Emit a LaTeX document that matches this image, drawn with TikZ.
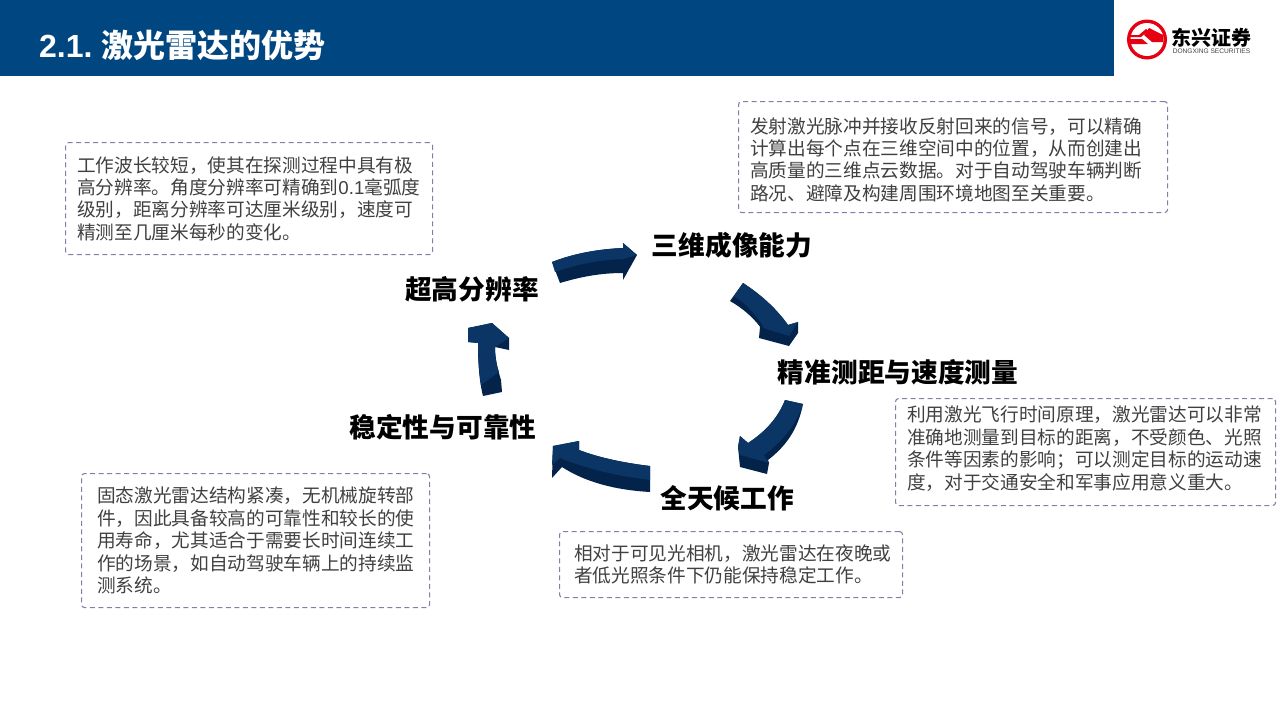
\documentclass[tikz,border=0pt]{standalone}
\usepackage{fontspec}
\setmainfont{Noto Sans CJK SC}
\newfontfamily\latinfont{Liberation Sans}
\definecolor{headblue}{HTML}{004680}
\definecolor{arrowtop}{HTML}{0A3565}
\definecolor{arrowlow}{HTML}{03234A}
\definecolor{boxline}{HTML}{7F7FA8}
\definecolor{bodygrey}{HTML}{404040}
\definecolor{logored}{HTML}{E60012}
\tikzset{
  infobox/.style={draw=boxline,line width=1.1pt,dash pattern=on 5pt off 3.5pt,rounded corners=3pt,anchor=north west,
    inner xsep=11.5pt,inner ysep=0pt,align=left,text=bodygrey,font=\fontsize{18.67}{22.4}\selectfont},
  steplabel/.style={font=\fontsize{26.67}{30}\selectfont\bfseries,text=black,inner sep=0pt},
  toparrow/.style={fill=arrowtop},
  lowarrow/.style={fill=arrowlow}
}
\begin{document}
\begin{tikzpicture}[x=1pt,y=-1pt]
      \useasboundingbox (0,0) rectangle (1280,720);
      \fill[headblue] (0,0) rectangle (1114,76);
      \node[anchor=west,inner sep=0pt,text=white,font=\fontsize{32}{36}\selectfont\bfseries] (title) at (39,45) {{\latinfont 2.1.}\hspace{9pt}激光雷达的优势};
      \fill[logored] (1147,39.5) circle (20);
      \fill[white] (1147,39.5) circle (16.5);
      \fill[logored] (1149,28) -- (1163,35) -- (1163,42) -- (1152,42) -- (1144,35) -- cycle;
      \fill[logored] (1129,35) -- (1139,35) -- (1146,29) -- (1148,31) -- (1141,37) -- (1129,37) -- cycle;
      \fill[logored] (1130,39) -- (1142,39) -- (1148,44) -- (1130,44) -- cycle;
      \node[inner sep=0pt,font=\fontsize{20}{20}\selectfont\bfseries,text=black] (logotext) at (1211.5,38) {东兴证券};
      \node[inner sep=0pt,font=\fontsize{6.6}{7}\selectfont\latinfont,text=bodygrey] (logosub) at (1211.5,51.5) {DONGXING SECURITIES};
      \node[steplabel] (0) at (472,289) {超高分辨率};
      \node[steplabel] (1) at (732,245) {三维成像能力};
      \node[steplabel] (2) at (898,372) {精准测距与速度测量};
      \node[steplabel] (3) at (727,498) {全天候工作};
      \node[steplabel] (4) at (443,427) {稳定性与可靠性};
      \node[infobox,minimum width=367pt,minimum height=112pt,text width=344pt] (box0) at (65,142)
        {工作波长较短，使其在探测过程中具有极\\高分辨率。角度分辨率可精确到{\latinfont 0.1}毫弧度\\级别，距离分辨率可达厘米级别，速度可\\精测至几厘米每秒的变化。};
      \node[infobox,minimum width=429pt,minimum height=111pt,text width=406pt] (box1) at (738,101)
        {\rule{0pt}{21pt}发射激光脉冲并接收反射回来的信号，可以精确\\计算出每个点在三维空间中的位置，从而创建出\\高质量的三维点云数据。对于自动驾驶车辆判断\\路况、避障及构建周围环境地图至关重要。};
      \node[infobox,minimum width=380pt,minimum height=107pt,text width=357pt] (box2) at (895,398)
        {利用激光飞行时间原理，激光雷达可以非常\\准确地测量到目标的距离，不受颜色、光照\\条件等因素的影响；可以测定目标的运动速\\度，对于交通安全和军事应用意义重大。\rule[-9pt]{0pt}{9pt}};
      \node[infobox,inner xsep=14.5pt,minimum width=343pt,minimum height=66pt,text width=314pt] (box3) at (559,531)
        {相对于可见光相机，激光雷达在夜晚或\\者低光照条件下仍能保持稳定工作。};
      \node[infobox,inner xsep=15.5pt,minimum width=348pt,minimum height=134pt,text width=317pt] (box4) at (81,473)
        {固态激光雷达结构紧凑，无机械旋转部\\件，因此具备较高的可靠性和较长的使\\用寿命，尤其适合于需要长时间连续工\\作的场景，如自动驾驶车辆上的持续监\\测系统。};
      \begin{scope}
        \fill[lowarrow] (552,262) .. controls (575,253) and (600,249) .. (623,248) -- (623,243) -- (637,255) -- (623,280) -- (623,273) .. controls (600,273) and (580,277) .. (560,283) -- cycle;
        \fill[toparrow] (552,262) .. controls (575,253) and (600,249) .. (623,248) -- (623,243) -- (637,255) -- (623,259) .. controls (600,260) and (578,264) .. (555,272) -- cycle;
        \fill[lowarrow] (743,283) .. controls (760,294) and (776,308) .. (788,325) -- (798,322) -- (798,333) -- (789,346) -- (759,338) -- (760,327) -- (761,328) .. controls (752,316) and (742,308) .. (730,301) -- cycle;
        \fill[toparrow] (743,283) .. controls (760,294) and (776,308) .. (788,325) -- (798,322) -- (789,336) -- (760,327) -- (764,328) .. controls (756,314) and (746,304) .. (734,296) -- cycle;
        \fill[lowarrow] (785,400) -- (803,404) .. controls (798,430) and (785,447) .. (768,460) -- (769,463) -- (767,474) -- (740,467) -- (738,447) -- (740,436) -- (748,443) .. controls (765,432) and (778,418) .. (785,400) -- cycle;
        \fill[toparrow] (785,400) -- (803,404) .. controls (796,425) and (782,442) .. (764,455) -- (769,463) -- (740,455) -- (738,447) -- (740,436) -- (748,443) .. controls (765,432) and (778,418) .. (785,400) -- cycle;
        \fill[lowarrow] (650,466) -- (650,492) .. controls (615,490) and (585,482) .. (562,467) -- (552,478) -- (553,446) -- (579,441) -- (579,450) .. controls (600,458) and (625,463) .. (650,466) -- cycle;
        \fill[toparrow] (650,466) -- (650,480) .. controls (618,476) and (590,470) .. (560,458) -- (552,465) -- (553,446) -- (579,441) -- (579,450) .. controls (600,458) and (625,463) .. (650,466) -- cycle;
        \fill[lowarrow] (483,396) -- (502,392) -- (501,380) .. controls (497,367) and (495,357) .. (495,347) -- (509,350) -- (509,338) -- (492,323) -- (468,328) -- (468,342) -- (478,343) .. controls (478,362) and (479,380) .. (483,396) -- cycle;
        \fill[toparrow] (481,385) -- (499,372) .. controls (496,364) and (495,355) .. (495,347) -- (509,338) -- (492,323) -- (468,328) -- (468,342) -- (478,343) .. controls (478,358) and (479,372) .. (481,385) -- cycle;
      \end{scope}
    \end{tikzpicture}
\end{document}
